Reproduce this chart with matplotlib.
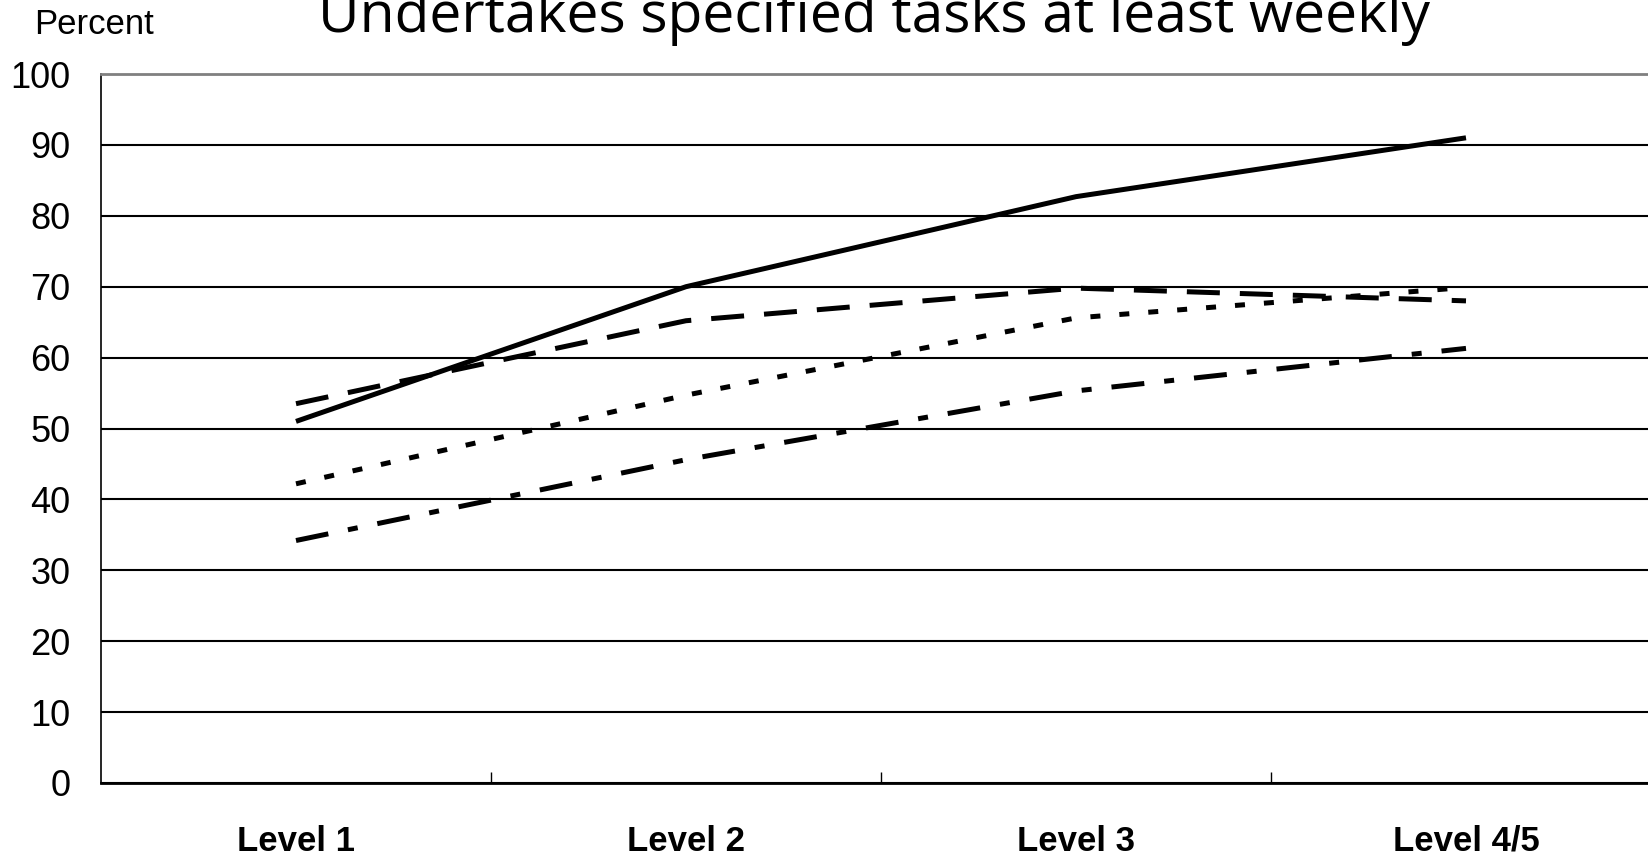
import matplotlib
matplotlib.use("Agg")
import matplotlib.pyplot as plt
import numpy as np

# data
levels = ['Level 1', 'Level 2', 'Level 3', 'Level 4/5']
solid_vals = [51.0, 70.0, 82.7, 91.0]
dash_vals = [53.5, 65.2, 69.8, 68.0]
dot_vals = [42.2, 54.7, 65.6, 69.9]
dashdot_vals = [34.2, 45.6, 55.3, 61.3]

narrow = ['Liberation Sans', 'DejaVu Sans']

fig = plt.figure(figsize=(16.48, 8.56), dpi=100)
ax = fig.add_axes([101/1648, 73/856, 1560/1648, 709/856])

x = np.arange(len(levels))
lw = 3.6
ax.plot(x, solid_vals, color='black', lw=lw, solid_capstyle='butt', zorder=3)
ax.plot(x, dash_vals, color='black', lw=lw, dashes=(6.6, 4), zorder=3)
ax.plot(x, dot_vals, color='black', lw=lw, dashes=(2, 3.8), zorder=3)
ax.plot(x, dashdot_vals, color='black', lw=lw, dashes=(6.6, 4, 2, 4), zorder=3)

ax.set_xlim(-0.5, 3.5)
ax.set_ylim(0, 100)
ax.set_yticks(np.arange(0, 101, 10))
ax.yaxis.grid(True, color='black', lw=1.5)
ax.set_axisbelow(True)

ax.set_xticks(x)
ax.set_xticklabels(levels, fontsize=25, fontweight='bold', family=narrow)
ax.set_xticks([0.5, 1.5, 2.5], minor=True)
ax.tick_params(axis='x', which='major', length=0, pad=30)
ax.tick_params(axis='x', which='minor', direction='in', length=8, width=1, color='black')
ax.tick_params(axis='y', length=0, pad=22)
for lab in ax.get_yticklabels():
    lab.set_fontsize(26)
    lab.set_family(narrow)

ax.spines['right'].set_visible(False)
ax.spines['top'].set_color('#808080')
ax.spines['top'].set_linewidth(2)
ax.spines['left'].set_linewidth(1.2)
ax.spines['bottom'].set_linewidth(2)

fig.text(34/1648, 1 - 24/856, 'Percent', fontsize=25, family=narrow, va='center', ha='left')
fig.text(874/1648, 1 - 32/856, 'Undertakes specified tasks at least weekly',
         fontsize=41, family=['Open Sans', 'DejaVu Sans'], ha='center', va='baseline')

fig.savefig('out.png', dpi=100)
